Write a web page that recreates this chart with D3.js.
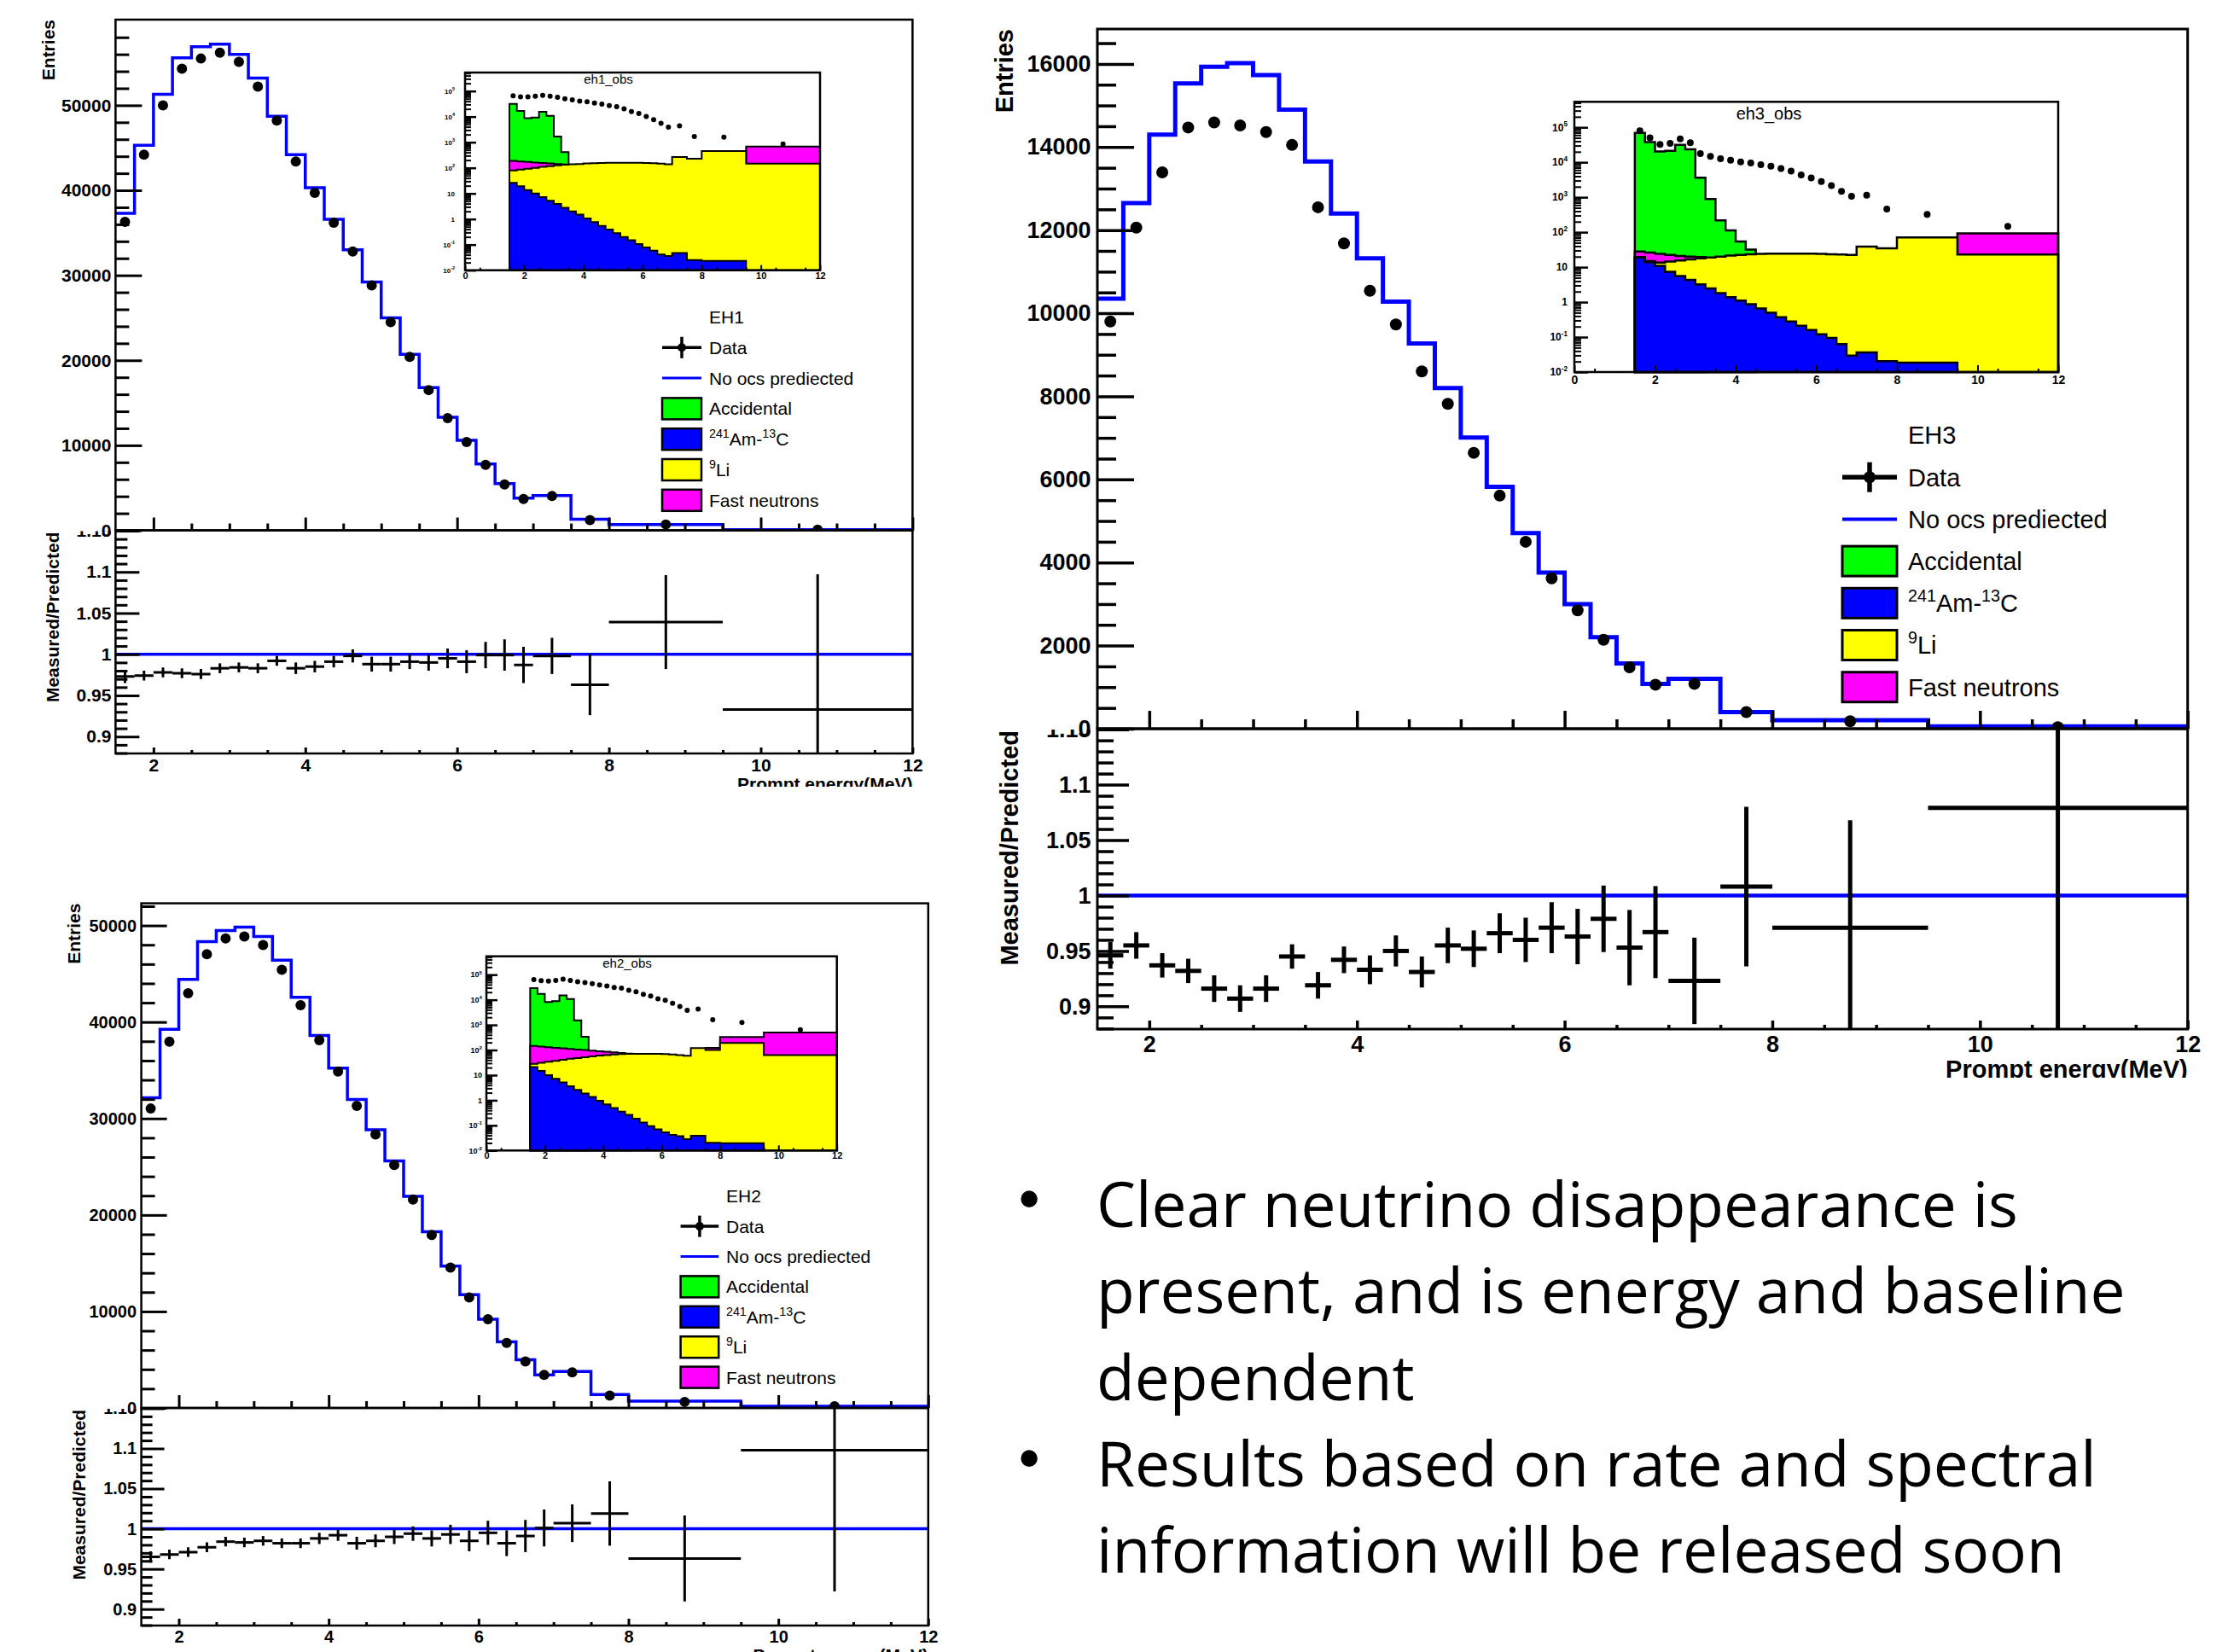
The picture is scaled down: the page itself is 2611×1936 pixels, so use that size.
<!DOCTYPE html>
<html>
<head>
<meta charset="utf-8">
<title>Prompt energy spectra EH1 / EH2 / EH3</title>
<script src="https://cdn.jsdelivr.net/npm/d3@7"></script>
<style>
  body { margin: 0; background: #fff; }
  svg { display: block; }
</style>
</head>
<body>
<svg id="slide" width="2611" height="1936"></svg>
<script>
// Energy binning (MeV): 0.25 MeV bins up to 7 MeV, then wider bins
var binEdges = [1.5, 1.75, 2, 2.25, 2.5, 2.75, 3, 3.25, 3.5, 3.75, 4, 4.25, 4.5, 4.75,
  5, 5.25, 5.5, 5.75, 6, 6.25, 6.5, 6.75, 7, 7.5, 8, 9.5, 12];

// Tick values and labels
var energyTicks = [2, 4, 6, 8, 10, 12];
var insetEnergyTicks = [0, 2, 4, 6, 8, 10, 12];
var ratioTicks = [0.9, 0.95, 1, 1.05, 1.1, 1.15];
var insetDecades = [0.01, 0.1, 1, 10, 100, 1000, 10000, 100000];
var insetDecadeLabels = ['10^{-2}', '10^{-1}', '1', '10', '10^{2}', '10^{3}', '10^{4}', '10^{5}'];

// Legend text (ROOT style superscripts)
var legendLabels = ['Data', 'No ocs prediected', 'Accidental', '^{241}Am-^{13}C', '^{9}Li', 'Fast neutrons'];

// Slide bullets
var bulletLines = ['Clear neutrino disappearance is', 'present, and is energy and baseline', 'dependent',
  'Results based on rate and spectral', 'information will be released soon'];
var bulletStarts = [0, 3];

// ---------------- EH1 ----------------
var eh1Predicted = [37300, 45300, 51300, 55600, 56900, 57200, 56000, 53200, 48700, 44200, 40300, 36600, 33000,
  29200, 25000, 20700, 16800, 13300, 10600, 7800, 5500, 3800, 4100, 1300, 690, 80];
var eh1Data = [36300, 44200, 50000, 54300, 55500, 56200, 55100, 52200, 48200, 43400, 39700, 36200, 32800,
  28800, 24500, 20400, 16500, 13200, 10400, 7700, 5400, 3700, 4050, 1210, 690, 80];
var eh1Ratio = [0.973, 0.974, 0.978, 0.977, 0.976, 0.983, 0.984, 0.983, 0.992, 0.983, 0.985, 0.991, 0.998,
  0.988, 0.988, 0.991, 0.990, 0.995, 0.991, 0.999, 0.999, 0.987, 0.998, 0.963, 1.039, 0.933];
var eh1RatioErr = [0.008, 0.006, 0.006, 0.006, 0.006, 0.006, 0.006, 0.006, 0.006, 0.007, 0.007, 0.007, 0.008,
  0.009, 0.009, 0.009, 0.010, 0.012, 0.014, 0.016, 0.019, 0.022, 0.022, 0.037, 0.057, 0.164];
var eh1InsetData = [64600, 58900, 58900, 63100, 67600, 63100, 57500, 50100, 45700, 40700, 38000, 33900, 30900,
  26900, 24500, 20400, 15800, 13200, 10200, 7600, 5500, 3900, 4400, 1660, 1580, 850];
// stacked background levels (top of each layer)
var eh1Accidental = [31600, 16600, 8700, 9300, 15500, 10700, 1660, 410, null, null, null, null, null,
  null, null, null, null, null, null, null, null, null, null, null, null, null];
var eh1FastN = [186, 178, 170, 162, 155, 148, 141, 135, null, null, null, null, null,
  null, null, null, null, null, null, null, null, null, null, null, null, 676];
var eh1Li9 = [79, 85, 93, 100, 110, 117, 126, 132, 138, 141, 148, 151, 155,
  158, 158, 158, 158, 158, 155, 151, 145, 138, 263, 229, 457, 145];
var eh1AmC = [26, 19, 13.5, 10, 7.2, 5.2, 3.9, 2.75, 2.0, 1.5, 1.05, 0.76, 0.54,
  0.39, 0.28, 0.2, 0.15, 0.105, 0.078, 0.058, 0.041, 0.036, 0.047, 0.025, 0.023, null];

// ---------------- EH3 ----------------
var eh3Predicted = [10350, 12650, 14300, 15530, 15930, 16020, 15730, 14900, 13650, 12400, 11320, 10280, 9270,
  8200, 7010, 5820, 4710, 3760, 3000, 2200, 1570, 1080, 1200, 400, 205, 55];
var eh3Data = [9800, 12060, 13390, 14470, 14590, 14520, 14360, 14050, 12550, 11680, 10540, 9730, 8600,
  7820, 6640, 5610, 4500, 3620, 2850, 2140, 1480, 1060, 1080, 400, 180, 35];
var eh3Ratio = [0.946, 0.955, 0.937, 0.932, 0.916, 0.907, 0.916, 0.945, 0.919, 0.942, 0.933, 0.950, 0.931,
  0.955, 0.952, 0.966, 0.960, 0.971, 0.963, 0.979, 0.953, 0.967, 0.923, 1.008, 0.971, 1.079];
var eh3RatioErr = [0.012, 0.012, 0.011, 0.011, 0.012, 0.012, 0.012, 0.011, 0.012, 0.012, 0.013, 0.014, 0.014,
  0.016, 0.0165, 0.018, 0.020, 0.023, 0.025, 0.030, 0.034, 0.0415, 0.039, 0.072, 0.097, 0.2];
var eh3InsetData = [79400, 50100, 32400, 34700, 46800, 36300, 17800, 14800, 12600, 11500, 10200, 9550, 8510,
  7760, 6610, 5620, 4370, 3550, 2820, 2140, 1480, 1070, 1150, 457, 324, 148];
var eh3Accidental = [69000, 38000, 20400, 21400, 31600, 23400, 3630, 890, 219, 112, 54, 32, null,
  null, null, null, null, null, null, null, null, null, null, null, null, null];
var eh3FastN = [28, 26.3, 24, 22.4, 20.9, 20, 19.5, null, null, null, null, null, null,
  null, null, null, null, null, null, null, null, null, null, null, null, 93];
var eh3Li9 = [19.5, 14.8, 13.5, 14.5, 15.5, 16.6, 17.8, 19, 20, 21.4, 22.4, 23.4, 24,
  24.5, 24.5, 24.5, 24.5, 24.5, 24, 23.4, 22.9, 22.4, 38.9, 34.7, 70.8, 22.9];
var eh3AmC = [19, 13.8, 11, 7.4, 5.6, 4.3, 3.2, 2.45, 1.82, 1.38, 1.1, 0.87, 0.66,
  0.5, 0.37, 0.28, 0.21, 0.16, 0.12, 0.095, 0.063, 0.0295, 0.0363, 0.0204, 0.0186, null];

// ---------------- EH2 ----------------
var eh2Predicted = [32150, 39240, 44410, 48320, 49480, 49830, 48850, 46400, 42560, 38610, 35220, 31970, 28830,
  25610, 21940, 18270, 14710, 11740, 9190, 6850, 5000, 3420, 3770, 1400, 700, 170];
var eh2Data = [31030, 37950, 42980, 47030, 48670, 48850, 47970, 45420, 41750, 38120, 34870, 31310, 28340,
  25190, 21590, 17920, 14540, 11460, 9190, 6740, 4820, 3420, 3700, 1290, 630, 170];
var eh2Ratio = [0.965, 0.968, 0.971, 0.977, 0.984, 0.983, 0.985, 0.982, 0.982, 0.988, 0.992, 0.982, 0.985,
  0.990, 0.994, 0.988, 0.993, 0.985, 0.995, 0.982, 0.991, 1.001, 1.007, 1.019, 0.963, 1.098];
var eh2RatioErr = [0.007, 0.006, 0.006, 0.006, 0.006, 0.006, 0.006, 0.006, 0.006, 0.007, 0.007, 0.008, 0.008,
  0.009, 0.009, 0.010, 0.012, 0.013, 0.015, 0.016, 0.020, 0.023, 0.0235, 0.040, 0.0535, 0.176];
var eh2InsetData = [63000, 57500, 55000, 58900, 66000, 58900, 52500, 47900, 43700, 38900, 35500, 30900, 28800,
  24000, 20900, 16600, 14100, 11000, 9550, 7240, 5370, 3800, 4270, 1620, 1260, 646];
var eh2Accidental = [28800, 17000, 8100, 8900, 14800, 10700, 1510, 340, null, null, null, null, null,
  null, null, null, null, null, null, null, null, null, null, null, null, null];
var eh2FastN = [145, 138, 129, 123, 117, 110, 105, 100, 95, 89, 85, 81, 76,
  72, null, null, null, null, null, null, null, null, null, 123, 331, 500];
var eh2Li9 = [28, 31, 34, 37, 41, 45, 48, 52, 56, 60, 63, 66, 69,
  71, 71, 71, 71, 71, 69, 66, 63, 59, 120, 100, 190, 63];
var eh2AmC = [21, 14.8, 10, 7.2, 5.1, 3.6, 2.6, 1.86, 1.35, 0.95, 0.69, 0.49, 0.355,
  0.263, 0.186, 0.129, 0.093, 0.069, 0.0525, 0.0417, 0.0372, 0.0282, 0.0389, 0.0204, 0.0195, null];

// Colours
var colors = {
  predicted: '#0000ff',
  accidental: '#00ff00',
  amc: '#0000ff',
  li9: '#ffff00',
  fastN: '#ff00ff'
};
var fontFamily = '"Liberation Sans", Arial, Helvetica, sans-serif';
var ratioDomain = [0.8795, 1.1505];

// Layout of each panel (pixels)
var eh1Layout = {
  name: 'EH1', obs: 'eh1_obs',
  left: 135.4, right: 1069.4, top: 23, mid: 621.5, bottom: 883, yMax: 60080, yMajor: 10000, yMinor: 2000,
  font: 21, titleFont: 21, labelPad: 5, xLabelPad: 6,
  yTick: 31, yMinorTick: 16, rTick: 28, rMinorTick: 14, xTick: 15, xMinorTick: 8, rxTick: 7, rxMinorTick: 4,
  frameWidth: 2.5, tickWidth: 3, histWidth: 3.5, unityWidth: 3.5, barWidth: 3, dotR: 6,
  titleX: 56, ratioTitleX: 61, energyTitleY: 926, clipBottom: 922,
  inset: { left: 545, right: 961, top: 85, bottom: 316.7, yMax: 5.28e5, titleX: 713, titleY: 93, titleFont: 15,
    yFont: 8, yPad: 12, xFont: 11, xPad: 3, tick: 13, minorTick: 7, xTick: 6, dotR: 3, lineWidth: 2 },
  legend: { x0: 776, x1: 822, tx: 831, y0: 371.5, step: 35.8, font: 21, boxH: 25, lineWidth: 3.5, blueWidth: 3, boxStroke: 2.5, dotR: 5 }
};

var eh3Layout = {
  name: 'EH3', obs: 'eh3_obs',
  left: 1286, right: 2563.7, top: 34, mid: 854, bottom: 1206, yMax: 16840, yMajor: 2000, yMinor: 500,
  font: 27, titleFont: 29, labelPad: 7.5, xLabelPad: 7.5,
  yTick: 43, yMinorTick: 22, rTick: 37, rMinorTick: 19, xTick: 21, xMinorTick: 11, rxTick: 10, rxMinorTick: 5,
  frameWidth: 3, tickWidth: 3.5, histWidth: 5, unityWidth: 4.5, barWidth: 5, dotR: 7,
  titleX: 1177, ratioTitleX: 1183, energyTitleY: 1263, clipBottom: 1263,
  inset: { left: 1845, right: 2412, top: 119.3, bottom: 436, yMax: 5.37e5, titleX: 2073, titleY: 132.7, titleFont: 20,
    yFont: 12, yPad: 8, xFont: 14, xPad: 4, tick: 16, minorTick: 8, xTick: 8, dotR: 4, lineWidth: 2.5 },
  legend: { x0: 2159, x1: 2223, tx: 2236, y0: 510, step: 49.2, font: 29, boxH: 35, lineWidth: 5.5, blueWidth: 4, boxStroke: 3, dotR: 7 }
};

var eh2Layout = {
  name: 'EH2', obs: 'eh2_obs',
  left: 165.6, right: 1087.8, top: 1058.6, mid: 1650, bottom: 1905, yMax: 52300, yMajor: 10000, yMinor: 2000,
  font: 20, titleFont: 21, labelPad: 5.5, xLabelPad: 6,
  yTick: 30, yMinorTick: 16, rTick: 27, rMinorTick: 13, xTick: 15, xMinorTick: 8, rxTick: 8, rxMinorTick: 4,
  frameWidth: 2.5, tickWidth: 3, histWidth: 3.5, unityWidth: 3.5, barWidth: 3, dotR: 6,
  titleX: 86, ratioTitleX: 92, energyTitleY: 1947, clipBottom: 1936,
  inset: { left: 570, right: 980.7, top: 1120.7, bottom: 1348.3, yMax: 5.37e5, titleX: 735, titleY: 1129, titleFont: 15,
    yFont: 9, yPad: 5, xFont: 11, xPad: 2, tick: 13, minorTick: 7, xTick: 6, dotR: 3, lineWidth: 2 },
  legend: { x0: 797.6, x1: 842.2, tx: 851, y0: 1401.7, step: 35.4, font: 21, boxH: 25, lineWidth: 3.5, blueWidth: 3, boxStroke: 2.5, dotR: 5 }
};

var svg = d3.select('#slide');
var defs = svg.append('defs');
var clipCount = 0;

function makeClip(x, y, w, h) {
  var id = 'clip-' + (clipCount++);
  defs.append('clipPath').attr('id', id)
    .append('rect').attr('x', x).attr('y', y).attr('width', w).attr('height', h);
  return 'url(#' + id + ')';
}

// Histogram values -> corner points for a stepped outline
function stepPoints(values) {
  var points = [];
  values.forEach(function(v, i) {
    points.push({ e: binEdges[i], v: v });
    points.push({ e: binEdges[i + 1], v: v });
  });
  return points;
}

function binCenter(i) {
  return (binEdges[i] + binEdges[i + 1]) / 2;
}

// ROOT-like label: "^{x}" becomes a superscript tspan
function richText(sel, label, fs) {
  var parts = label.split(/\^\{([^}]*)\}/);
  var raised = false;
  parts.forEach(function(part, i) {
    if (!part) return;
    var sup = i % 2 === 1;
    var dy = 0;
    if (sup && !raised) dy = -0.42 * fs;
    if (!sup && raised) dy = 0.42 * fs;
    raised = sup;
    sel.append('tspan').attr('dy', dy).attr('font-size', sup ? 0.68 * fs : fs).text(part);
  });
  return sel;
}

function styleAxis(sel, fontSize, tickWidth) {
  sel.attr('font-family', fontFamily).attr('font-size', fontSize).attr('font-weight', 'bold');
  sel.select('.domain').remove();
  sel.selectAll('.tick line').attr('stroke', '#000').attr('stroke-width', tickWidth);
  sel.selectAll('.tick text').attr('fill', '#000');
}

function minorOf(values, majors) {
  return values.filter(function(v) {
    return !majors.some(function(m) { return Math.abs(m - v) < 1e-9; });
  });
}

function drawHall(hall) {
  var L = hall.layout;
  var g = svg.append('g').attr('class', 'hall-' + L.name);

  var x = d3.scaleLinear().domain([1.5, 12]).range([L.left, L.right]);
  var y = d3.scaleLinear().domain([0, L.yMax]).range([L.mid, L.top]);
  var r = d3.scaleLinear().domain(ratioDomain).range([L.bottom, L.mid]);

  var mainClip = makeClip(L.left, L.top, L.right - L.left, L.mid - L.top);
  var ratioClip = makeClip(L.left, L.mid, L.right - L.left, L.bottom - L.mid);

  // ---- main panel ----
  g.append('path')
    .datum(stepPoints(hall.predicted))
    .attr('clip-path', mainClip)
    .attr('d', d3.line().x(function(d) { return x(d.e); }).y(function(d) { return y(d.v); }))
    .attr('fill', 'none')
    .attr('stroke', colors.predicted)
    .attr('stroke-width', L.histWidth);

  g.append('g')
    .attr('clip-path', mainClip)
    .selectAll('circle')
    .data(hall.data)
    .join('circle')
    .attr('cx', function(d, i) { return x(binCenter(i)); })
    .attr('cy', function(d) { return y(d); })
    .attr('r', L.dotR)
    .attr('fill', '#000');

  var yMajor = d3.range(0, L.yMax - 100, L.yMajor);
  var yMinor = minorOf(d3.range(0, L.yMax - 100, L.yMinor), yMajor);

  g.append('g')
    .attr('transform', 'translate(' + L.left + ',0)')
    .call(d3.axisLeft(y).tickValues(yMajor).tickSizeInner(-L.yTick).tickSizeOuter(0)
      .tickPadding(L.labelPad).tickFormat(d3.format('d')))
    .call(styleAxis, L.font, L.tickWidth);

  g.append('g')
    .attr('transform', 'translate(' + L.left + ',0)')
    .call(d3.axisLeft(y).tickValues(yMinor).tickSizeInner(-L.yMinorTick).tickSizeOuter(0).tickFormat(''))
    .call(styleAxis, L.font, L.tickWidth);

  var xMinor = minorOf(d3.range(2.5, 12, 0.5), energyTicks);

  g.append('g')
    .attr('transform', 'translate(0,' + L.mid + ')')
    .call(d3.axisBottom(x).tickValues(energyTicks).tickSizeInner(-L.xTick).tickSizeOuter(0).tickFormat(''))
    .call(styleAxis, L.font, L.tickWidth);

  g.append('g')
    .attr('transform', 'translate(0,' + L.mid + ')')
    .call(d3.axisBottom(x).tickValues(xMinor).tickSizeInner(-L.xMinorTick).tickSizeOuter(0).tickFormat(''))
    .call(styleAxis, L.font, L.tickWidth);

  g.append('rect')
    .attr('x', L.left).attr('y', L.top)
    .attr('width', L.right - L.left).attr('height', L.mid - L.top)
    .attr('fill', 'none').attr('stroke', '#000').attr('stroke-width', L.frameWidth);

  g.append('text')
    .attr('transform', 'translate(' + L.titleX + ',' + L.top + ') rotate(-90)')
    .attr('text-anchor', 'end')
    .attr('dy', '0.36em')
    .attr('font-family', fontFamily).attr('font-weight', 'bold').attr('font-size', L.titleFont)
    .text('Entries');

  // ---- ratio panel ----
  g.append('line')
    .attr('x1', L.left).attr('x2', L.right)
    .attr('y1', r(1)).attr('y2', r(1))
    .attr('stroke', colors.predicted).attr('stroke-width', L.unityWidth);

  var bars = g.append('g')
    .attr('clip-path', ratioClip)
    .attr('stroke', '#000')
    .attr('stroke-width', L.barWidth);

  bars.selectAll('.hbar')
    .data(hall.ratio)
    .join('line')
    .attr('class', 'hbar')
    .attr('x1', function(d, i) { return x(binEdges[i]); })
    .attr('x2', function(d, i) { return x(binEdges[i + 1]); })
    .attr('y1', function(d) { return r(d); })
    .attr('y2', function(d) { return r(d); });

  bars.selectAll('.vbar')
    .data(hall.ratio)
    .join('line')
    .attr('class', 'vbar')
    .attr('x1', function(d, i) { return x(binCenter(i)); })
    .attr('x2', function(d, i) { return x(binCenter(i)); })
    .attr('y1', function(d, i) { return r(d - hall.ratioErr[i]); })
    .attr('y2', function(d, i) { return r(d + hall.ratioErr[i]); });

  var ratioMinor = minorOf(d3.range(88, 116).map(function(k) { return k / 100; }), ratioTicks);

  // the top label (1.15) is partly hidden behind the upper pad, as in ROOT
  g.append('g')
    .attr('clip-path', makeClip(0, L.mid + 1, L.right, L.bottom - L.mid + 80))
    .append('g')
    .attr('transform', 'translate(' + L.left + ',0)')
    .call(d3.axisLeft(r).tickValues(ratioTicks).tickSizeInner(-L.rTick).tickSizeOuter(0)
      .tickPadding(L.labelPad).tickFormat(function(d) { return String(d); }))
    .call(styleAxis, L.font, L.tickWidth);

  g.append('g')
    .attr('transform', 'translate(' + L.left + ',0)')
    .call(d3.axisLeft(r).tickValues(ratioMinor).tickSizeInner(-L.rMinorTick).tickSizeOuter(0).tickFormat(''))
    .call(styleAxis, L.font, L.tickWidth);

  g.append('g')
    .attr('transform', 'translate(0,' + L.bottom + ')')
    .call(d3.axisBottom(x).tickValues(energyTicks).tickSizeInner(-L.rxTick).tickSizeOuter(0)
      .tickPadding(L.xLabelPad).tickFormat(d3.format('d')))
    .call(styleAxis, L.font, L.tickWidth);

  g.append('g')
    .attr('transform', 'translate(0,' + L.bottom + ')')
    .call(d3.axisBottom(x).tickValues(xMinor).tickSizeInner(-L.rxMinorTick).tickSizeOuter(0).tickFormat(''))
    .call(styleAxis, L.font, L.tickWidth);

  g.append('rect')
    .attr('x', L.left).attr('y', L.mid)
    .attr('width', L.right - L.left).attr('height', L.bottom - L.mid)
    .attr('fill', 'none').attr('stroke', '#000').attr('stroke-width', L.frameWidth);

  g.append('text')
    .attr('transform', 'translate(' + L.ratioTitleX + ',' + (L.mid + 2) + ') rotate(-90)')
    .attr('text-anchor', 'end')
    .attr('dy', '0.36em')
    .attr('font-family', fontFamily).attr('font-weight', 'bold').attr('font-size', L.titleFont)
    .text('Measured/Predicted');

  g.append('text')
    .attr('clip-path', makeClip(0, 0, 2611, L.clipBottom))
    .attr('x', L.right)
    .attr('y', L.energyTitleY)
    .attr('text-anchor', 'end')
    .attr('font-family', fontFamily).attr('font-weight', 'bold').attr('font-size', L.titleFont)
    .text('Prompt energy(MeV)');

  drawInset(g, hall);
  drawLegend(g, hall);
}

function drawInset(parent, hall) {
  var I = hall.layout.inset;
  var ig = parent.append('g').attr('class', 'inset');

  var ix = d3.scaleLinear().domain([0, 12]).range([I.left, I.right]);
  var iy = d3.scaleLog().domain([0.01, I.yMax]).range([I.bottom, I.top]);

  ig.append('rect')
    .attr('x', I.left).attr('y', I.top)
    .attr('width', I.right - I.left).attr('height', I.bottom - I.top)
    .attr('fill', '#fff');

  // stacked backgrounds, drawn from the outermost layer inwards
  var layers = [
    { values: hall.accidental, color: colors.accidental },
    { values: hall.fastN, color: colors.fastN },
    { values: hall.li9, color: colors.li9 },
    { values: hall.amc, color: colors.amc }
  ];

  var area = d3.area()
    .defined(function(d) { return d.v != null; })
    .x(function(d) { return ix(d.e); })
    .y0(I.bottom)
    .y1(function(d) { return iy(d.v); });

  ig.selectAll('.layer')
    .data(layers)
    .join('path')
    .attr('class', 'layer')
    .attr('d', function(d) { return area(stepPoints(d.values)); })
    .attr('fill', function(d) { return d.color; })
    .attr('stroke', '#000')
    .attr('stroke-width', I.lineWidth)
    .attr('stroke-linejoin', 'miter');

  ig.selectAll('.obs')
    .data(hall.insetData)
    .join('circle')
    .attr('class', 'obs')
    .attr('cx', function(d, i) { return ix(binCenter(i)); })
    .attr('cy', function(d) { return iy(d); })
    .attr('r', I.dotR)
    .attr('fill', '#000');

  // log axis ticks
  var logMinor = [];
  d3.range(-2, 6).forEach(function(n) {
    d3.range(2, 10).forEach(function(k) {
      var v = k * Math.pow(10, n);
      if (v < I.yMax) logMinor.push(v);
    });
  });

  ig.append('g')
    .attr('transform', 'translate(' + I.left + ',0)')
    .call(d3.axisLeft(iy).tickValues(insetDecades).tickSizeInner(-I.tick).tickSizeOuter(0).tickFormat(''))
    .call(styleAxis, I.yFont, 2.5);

  ig.append('g')
    .attr('transform', 'translate(' + I.left + ',0)')
    .call(d3.axisLeft(iy).tickValues(logMinor).tickSizeInner(-I.minorTick).tickSizeOuter(0).tickFormat(''))
    .call(styleAxis, I.yFont, 2);

  ig.append('g')
    .attr('font-family', fontFamily).attr('font-weight', 'bold')
    .selectAll('text')
    .data(insetDecades)
    .join('text')
    .attr('x', I.left - I.yPad)
    .attr('y', function(d) { return iy(d) + 0.36 * I.yFont; })
    .attr('text-anchor', 'end')
    .attr('font-size', I.yFont)
    .each(function(d, i) { richText(d3.select(this), insetDecadeLabels[i], I.yFont); });

  ig.append('g')
    .attr('transform', 'translate(0,' + I.bottom + ')')
    .call(d3.axisBottom(ix).tickValues(insetEnergyTicks).tickSizeInner(-I.xTick).tickSizeOuter(0)
      .tickPadding(I.xPad).tickFormat(d3.format('d')))
    .call(styleAxis, I.xFont, 2);

  ig.append('g')
    .attr('transform', 'translate(0,' + I.bottom + ')')
    .call(d3.axisBottom(ix).tickValues(d3.range(0.5, 12, 1)).tickSizeInner(-I.xTick / 2).tickSizeOuter(0).tickFormat(''))
    .call(styleAxis, I.xFont, 2);

  ig.append('rect')
    .attr('x', I.left).attr('y', I.top)
    .attr('width', I.right - I.left).attr('height', I.bottom - I.top)
    .attr('fill', 'none').attr('stroke', '#000').attr('stroke-width', 2.5);

  ig.append('text')
    .attr('x', I.titleX)
    .attr('y', I.titleY + 0.36 * I.titleFont)
    .attr('text-anchor', 'middle')
    .attr('font-family', fontFamily).attr('font-size', I.titleFont)
    .text(hall.layout.obs);
}

function drawLegend(parent, hall) {
  var G = hall.layout.legend;
  var lg = parent.append('g').attr('class', 'legend')
    .attr('font-family', fontFamily).attr('font-size', G.font);
  var boxColors = [colors.accidental, colors.amc, colors.li9, colors.fastN];
  var xm = (G.x0 + G.x1) / 2;

  lg.append('text')
    .attr('x', G.tx).attr('y', G.y0 + 0.36 * G.font)
    .text(hall.layout.name);

  legendLabels.forEach(function(label, k) {
    var cy = G.y0 + (k + 1) * G.step;
    richText(lg.append('text').attr('x', G.tx).attr('y', cy + 0.36 * G.font), label, G.font);

    if (k === 0) {
      lg.append('line').attr('x1', G.x0).attr('x2', G.x1).attr('y1', cy).attr('y2', cy)
        .attr('stroke', '#000').attr('stroke-width', G.lineWidth);
      lg.append('line').attr('x1', xm).attr('x2', xm).attr('y1', cy - G.boxH / 2).attr('y2', cy + G.boxH / 2)
        .attr('stroke', '#000').attr('stroke-width', G.lineWidth);
      lg.append('circle').attr('cx', xm).attr('cy', cy).attr('r', G.dotR).attr('fill', '#000');
    } else if (k === 1) {
      lg.append('line').attr('x1', G.x0).attr('x2', G.x1).attr('y1', cy).attr('y2', cy)
        .attr('stroke', colors.predicted).attr('stroke-width', G.blueWidth);
    } else {
      lg.append('rect')
        .attr('x', G.x0).attr('y', cy - G.boxH / 2)
        .attr('width', G.x1 - G.x0).attr('height', G.boxH)
        .attr('fill', boxColors[k - 2])
        .attr('stroke', '#000').attr('stroke-width', G.boxStroke);
    }
  });
}

var halls = [
  { layout: eh1Layout, predicted: eh1Predicted, data: eh1Data, ratio: eh1Ratio, ratioErr: eh1RatioErr,
    insetData: eh1InsetData, accidental: eh1Accidental, fastN: eh1FastN, li9: eh1Li9, amc: eh1AmC },
  { layout: eh3Layout, predicted: eh3Predicted, data: eh3Data, ratio: eh3Ratio, ratioErr: eh3RatioErr,
    insetData: eh3InsetData, accidental: eh3Accidental, fastN: eh3FastN, li9: eh3Li9, amc: eh3AmC },
  { layout: eh2Layout, predicted: eh2Predicted, data: eh2Data, ratio: eh2Ratio, ratioErr: eh2RatioErr,
    insetData: eh2InsetData, accidental: eh2Accidental, fastN: eh2FastN, li9: eh2Li9, amc: eh2AmC }
];

halls.forEach(drawHall);

// Bullet text
var textBaselines = [1437.6, 1538.6, 1640.7, 1742, 1843];
var bullets = svg.append('g').attr('class', 'bullets');

bullets.selectAll('.line')
  .data(bulletLines)
  .join('text')
  .attr('class', 'line')
  .attr('x', 1285)
  .attr('y', function(d, i) { return textBaselines[i]; })
  .attr('font-family', '"Open Sans", "Noto Sans", sans-serif')
  .attr('font-size', 73)
  .attr('fill', '#000')
  .text(function(d) { return d; });

bullets.selectAll('.dot')
  .data(bulletStarts)
  .join('text')
  .attr('class', 'dot')
  .attr('x', 1206)
  .attr('y', function(d) { return textBaselines[d] - 9; })
  .attr('text-anchor', 'middle')
  .attr('font-family', fontFamily)
  .attr('font-size', 72)
  .attr('fill', '#000')
  .text('\u2022');
</script>
</body>
</html>
